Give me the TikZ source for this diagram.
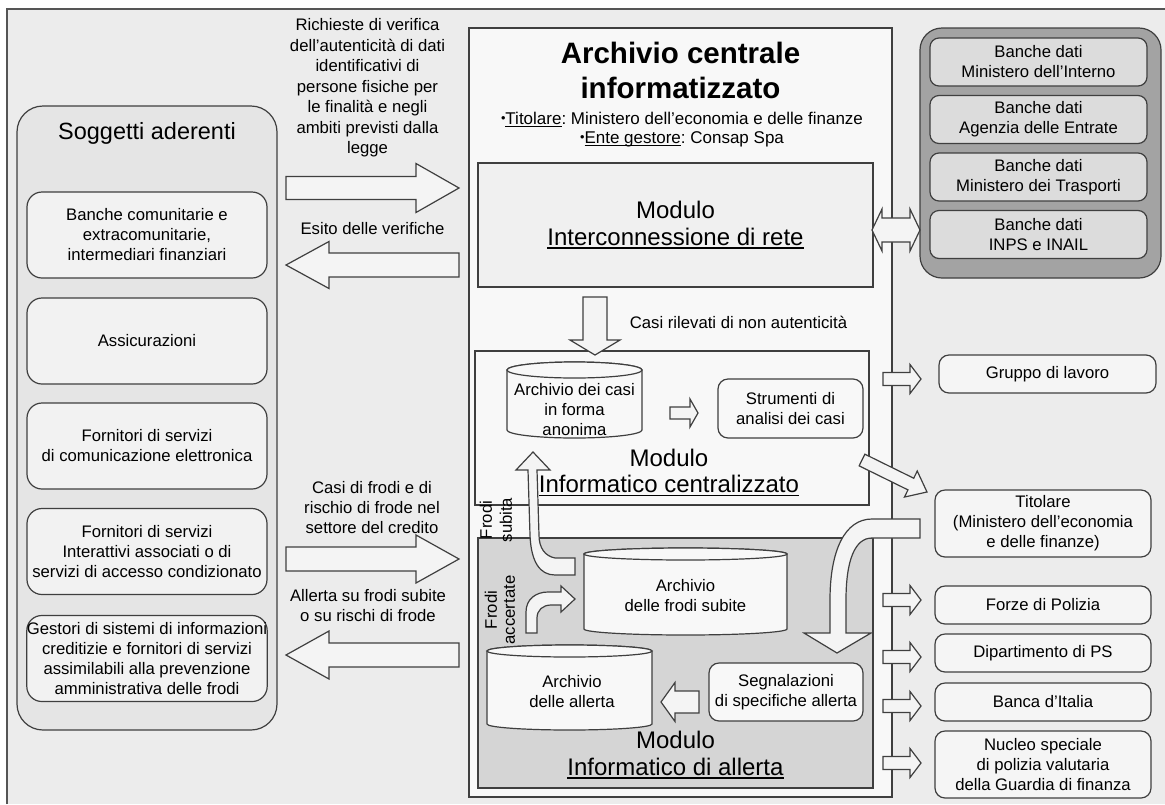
\documentclass[tikz,border=0pt]{standalone}
\usepackage{fontspec}
\usepackage{graphicx}
\setmainfont{Liberation Sans}
\definecolor{cBg}{HTML}{ECECEC}
\definecolor{cFrame}{HTML}{555555}
\definecolor{cLn}{HTML}{3F3F3F}
\definecolor{cSogg}{HTML}{E5E5E5}
\definecolor{cLbox}{HTML}{F2F2F2}
\definecolor{cCentral}{HTML}{F8F8F8}
\definecolor{cInterc}{HTML}{F0F0F0}
\definecolor{cAllerta}{HTML}{D5D5D5}
\definecolor{cBanOut}{HTML}{A3A3A3}
\definecolor{cBanIn}{HTML}{DCDCDC}
\definecolor{cArw}{HTML}{F4F4F4}
\definecolor{cRbox}{HTML}{F5F5F5}
\newcommand\ulin[3]{\setbox0=\hbox{#3}\rlap{\rule[-#1]{\wd0}{#2}}\box0}
\newcommand\smbul{\raisebox{0.1em}{\scalebox{0.75}{•}}}
% block arrow: [style] x1 y1 x2 y2 shafthalf headhalf headlen
\newcommand\barrow[8][]{%
  \pgfmathsetmacro\baang{atan2(-(#5-#3),#4-#2)}%
  \pgfmathsetmacro\balen{veclen(#4-#2,#5-#3)}%
  \draw[arrowshape,#1,shift={(#2,#3)},rotate=\baang] (0,-#6) -- (\balen-#8,-#6) -- (\balen-#8,-#7) -- (\balen,0) -- (\balen-#8,#7) -- (\balen-#8,#6) -- (0,#6) -- cycle;}
\begin{document}
\frenchspacing
\begin{tikzpicture}[x=1pt,y=-1pt,
  every node/.style={font=\fontsize{16.7}{20}\selectfont, align=center, inner sep=0pt, text=black},
  lnbox/.style={draw=cLn, line width=1.2pt},
  arrowshape/.style={draw=cLn, fill=cArw, line width=1.2pt, line join=miter},
  modfont/.style={font=\fontsize{24}{26.5}\selectfont},
  leftbox/.style={lnbox, rounded corners=15pt, fill=cLbox, minimum width=240pt, minimum height=86pt},
  banbox/.style={lnbox, rounded corners=9pt, fill=cBanIn, minimum width=217pt, minimum height=48pt},
  rbox/.style={lnbox, rounded corners=10pt, fill=cRbox, minimum width=216pt},
  cylbody/.style={draw=cLn, fill=cCentral, line width=1.2pt},
]
\useasboundingbox (0,0) rectangle (1165,804);
\fill[white] (0,0) rectangle (1165,804);
\fill[cBg] (7,9) rectangle (1165,804);
\draw[draw=cFrame, line width=1.3pt] (7,804) -- (7,9) -- (1165,9);

% ---------------- left column
\node[lnbox, rounded corners=26pt, fill=cSogg, minimum width=260pt, minimum height=624pt] (sogg) at (147,418) {};
\node[font=\fontsize{23.5}{27}\selectfont] (soggt) at (147,133) {Soggetti aderenti};
\node[leftbox] (s1) at (147,235) {Banche comunitarie e\\extracomunitarie,\\intermediari finanziari};
\node[leftbox] (s2) at (147,341) {Assicurazioni};
\node[leftbox] (s3) at (147,446) {Fornitori di servizi\\di comunicazione elettronica};
\node[leftbox] (s4) at (147,551.5) {Fornitori di servizi\\Interattivi associati o di\\servizi di accesso condizionato};
\node[leftbox] (s5) at (147,658.5) {Gestori di sistemi di informazioni\\creditizie e fornitori di servizi\\assimilabili alla prevenzione\\amministrativa delle frodi};

% ---------------- labels between left and centre
\node[font=\fontsize{16.7}{20.5}\selectfont] (lreq) at (367.5,88) {Richieste di verifica\\dell’autenticità di dati\\identificativi di\\persone fisiche per\\le finalità e negli\\ambiti previsti dalla\\legge};
\node (lesito) at (372.5,228.5) {Esito delle verifiche};
\node (lcasi) at (372,508) {Casi di frodi e di\\rischio di frode nel\\settore del credito};
\node (lallerta) at (368,606) {Allerta su frodi subite\\o su rischi di frode};

% ---------------- central archive
\node[lnbox, fill=cCentral, minimum width=423pt, minimum height=769pt] (central) at (680.5,412.5) {};
\node[font=\bfseries\fontsize{29.5}{35}\selectfont] (title) at (680.5,70.5) {Archivio centrale\\informatizzato};
\node[font=\fontsize{17}{19}\selectfont] (titinfo) at (682,129.5) {\smbul\ulin{2.6pt}{1.1pt}{Titolare}: Ministero dell’economia e delle finanze\\\smbul\ulin{2.6pt}{1.1pt}{Ente gestore}: Consap Spa};

\node[lnbox, fill=cInterc, minimum width=395pt, minimum height=124pt, modfont] (interc) at (675.5,225) {Modulo\\\ulin{3.2pt}{1.5pt}{Interconnessione di rete}};

\node (casirl) at (738.5,322) {Casi rilevati di non autenticità};

% centralised module
\node[lnbox, fill=cCentral, minimum width=394pt, minimum height=154pt] (centr) at (672,428) {};
\draw[cylbody] (507,370) -- (507,430) arc[start angle=180, end angle=360, x radius=67.5pt, y radius=8pt] -- (642,370) arc[start angle=0, end angle=180, x radius=67.5pt, y radius=8pt] -- cycle;
\draw[cylbody] (574.5,370) ellipse [x radius=67.5pt, y radius=8pt];
\node (cyl1) at (574.5,409.5) {Archivio dei casi\\in forma\\anonima};
\node[lnbox, rounded corners=10pt, fill=cCentral, minimum width=145pt, minimum height=59pt] (strum) at (790.5,408.5) {Strumenti di\\analisi dei casi};
\node[modfont] (centrt) at (669,472.5) {Modulo\\\ulin{3.2pt}{1.5pt}{Informatico centralizzato}};

% alert module
\node[lnbox, fill=cAllerta, minimum width=395pt, minimum height=250pt] (aller) at (675.5,663) {};
\draw[cylbody] (584,554) -- (584,629) arc[start angle=180, end angle=360, x radius=101.5pt, y radius=6pt] -- (787,554) arc[start angle=0, end angle=180, x radius=101.5pt, y radius=6pt] -- cycle;
\draw[cylbody] (685.5,554) ellipse [x radius=101.5pt, y radius=6pt];
\node (cyl2) at (685.5,596) {Archivio\\delle frodi subite};
\draw[cylbody] (487,651) -- (487,724) arc[start angle=180, end angle=360, x radius=82.5pt, y radius=6pt] -- (652,651) arc[start angle=0, end angle=180, x radius=82.5pt, y radius=6pt] -- cycle;
\draw[cylbody] (569.5,651) ellipse [x radius=82.5pt, y radius=6pt];
\node (cyl3) at (572,692) {Archivio\\delle allerta};
\node[lnbox, rounded corners=10pt, fill=cCentral, minimum width=154pt, minimum height=58pt] (segn) at (786,692) {Segnalazioni\\di specifiche allerta};
\node[modfont] (allert) at (675.5,755) {Modulo\\\ulin{3.2pt}{1.5pt}{Informatico di allerta}};

\node[rotate=90, font=\fontsize{16.7}{20}\selectfont] (fsub) at (496,520) {Frodi\\subita};
\node[rotate=90, font=\fontsize{16.7}{18}\selectfont] (facc) at (500,610) {Frodi\\accertate};

% ---------------- data banks
\node[lnbox, rounded corners=22pt, fill=cBanOut, minimum width=241pt, minimum height=250pt] (banche) at (1040.5,153) {};
\node[banbox] (bd1) at (1038.5,62) {Banche dati\\Ministero dell’Interno};
\node[banbox] (bd2) at (1038.5,119.5) {Banche dati\\Agenzia delle Entrate};
\node[banbox] (bd3) at (1038.5,177) {Banche dati\\Ministero dei Trasporti};
\node[banbox] (bd4) at (1038.5,234.5) {Banche dati\\INPS e INAIL};

% ---------------- recipients
\node[rbox, minimum width=217pt, minimum height=38pt] (grp) at (1047.5,374) {Gruppo di lavoro};
\node[rbox, minimum height=67pt] (tit) at (1043,523.5) {Titolare\\(Ministero dell’economia\\e delle finanze)};
\node[rbox, minimum height=38pt] (forze) at (1043,605) {Forze di Polizia};
\node[rbox, minimum height=38pt] (dip) at (1043,653) {Dipartimento di PS};
\node[rbox, minimum height=38pt] (bdi) at (1043,702) {Banca d’Italia};
\node[rbox, minimum height=67pt] (nucleo) at (1043,764.5) {Nucleo speciale\\di polizia valutaria\\della Guardia di finanza};

% ---------------- block arrows
\barrow{286}{188}{459}{188}{11.5}{24.5}{43}
\barrow{459}{265}{286}{265}{12}{23.5}{43}
\barrow{286}{559}{459}{559}{12}{24}{43}
\barrow{459}{655}{286}{655}{12}{24}{43}
\barrow{595}{297}{595}{355}{12}{25}{15}
\barrow{670}{413}{698}{413}{6}{14}{8}
\barrow{699}{702}{661}{702}{11}{19.5}{14}
\barrow{862}{460}{927}{492}{6.5}{14.5}{18}
\barrow{883}{379}{921}{379}{6.5}{14.5}{11}
\barrow{883}{600}{921}{600}{6.5}{14.5}{11}
\barrow{883}{657}{921}{657}{6.5}{14.5}{11}
\barrow{883}{706}{921}{706}{6.5}{14.5}{11}
\barrow{883}{763}{921}{763}{6.5}{14.5}{11}
% double arrow network <-> data banks
\draw[arrowshape] (872,230) -- (882,209) -- (882,218) -- (910,218) -- (910,209) -- (920,230) -- (910,251) -- (910,242) -- (882,242) -- (882,251) -- cycle;
% curved: frodi subita
\draw[arrowshape] (575,558) -- (555,558) .. controls (545,556) and (539,548) .. (539,535) -- (537,470) -- (550,470) -- (533,452) -- (516,470) -- (528,470) -- (530,535) .. controls (531,562) and (540,575) .. (555,575) -- (575,575) -- cycle;
% curved: frodi accertate
\draw[arrowshape] (526,633) -- (526,612) .. controls (526,599) and (536,592) .. (548,592) -- (561,592) -- (561,586) -- (575,599) -- (561,612) -- (561,605) -- (551,605) .. controls (543,605) and (537,610) .. (537,618) -- (537,633) -- cycle;
% curved: from Titolare down to alerts
\draw[arrowshape] (920,519) -- (872,519) .. controls (845,519) and (830,550) .. (830,600) -- (830,633) -- (804,633) -- (837,653) -- (871,633) -- (846,633) -- (846,600) .. controls (846,560) and (855,538) .. (872,538) -- (920,538) -- cycle;
\end{tikzpicture}
\end{document}
